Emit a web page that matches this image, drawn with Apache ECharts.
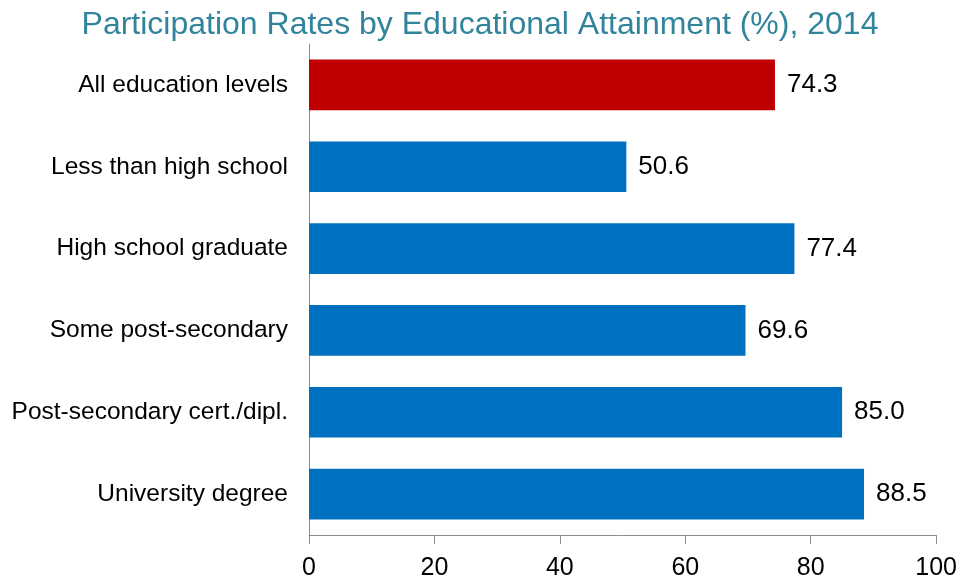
<!DOCTYPE html>
<html>
<head>
<meta charset="utf-8">
<script src="https://cdn.jsdelivr.net/npm/echarts@6/dist/echarts.min.js"></script>
<style>
  html, body { margin: 0; padding: 0; background: #fff; }
  #chart { width: 960px; height: 581px; }
</style>
</head>
<body>
<div id="chart"></div>
<script>
// Education levels, top to bottom
const categories = [
  'All education levels',
  'Less than high school',
  'High school graduate',
  'Some post-secondary',
  'Post-secondary cert./dipl.',
  'University degree'
];
// Participation rate (%) for each level
const rates = [74.3, 50.6, 77.4, 69.6, 85.0, 88.5];
const xTicks = [0, 20, 40, 60, 80, 100];

const sans = "'Liberation Sans', Arial, sans-serif";

const chart = echarts.init(document.getElementById('chart'));
chart.setOption({
  animation: false,
  title: {
    text: 'Participation Rates by Educational Attainment (%), 2014',
    left: 'center',
    top: 4,
    textStyle: {
      color: '#31849B',
      fontFamily: sans,
      fontWeight: 'normal',
      fontSize: 32
    }
  },
  grid: { left: 309, right: 20, top: 44, bottom: 45, containLabel: false },
  xAxis: {
    type: 'value',
    min: xTicks[0],
    max: xTicks[xTicks.length - 1],
    interval: 20,
    axisLine: { show: true, lineStyle: { color: '#8c8c8c', width: 1 } },
    axisTick: { show: true, length: 9, lineStyle: { color: '#8c8c8c' } },
    splitLine: { show: false },
    axisLabel: {
      color: '#000',
      fontFamily: sans,
      fontSize: 25,
      margin: 21
    }
  },
  yAxis: {
    type: 'category',
    inverse: true,
    data: categories,
    axisLine: { show: true, lineStyle: { color: '#8c8c8c', width: 1 } },
    axisTick: { show: false },
    axisLabel: {
      color: '#000',
      fontFamily: sans,
      fontSize: 24.5,
      margin: 21
    }
  },
  series: [{
    type: 'bar',
    data: rates.map((v, i) => ({
      value: v,
      itemStyle: { color: i === 0 ? '#C00000' : '#0070C0' }
    })),
    barWidth: '62%',
    label: {
      show: true,
      position: 'right',
      distance: 12,
      color: '#000',
      fontFamily: sans,
      fontSize: 26,
      formatter: p => p.value.toFixed(1)
    }
  }]
});
</script>
</body>
</html>
